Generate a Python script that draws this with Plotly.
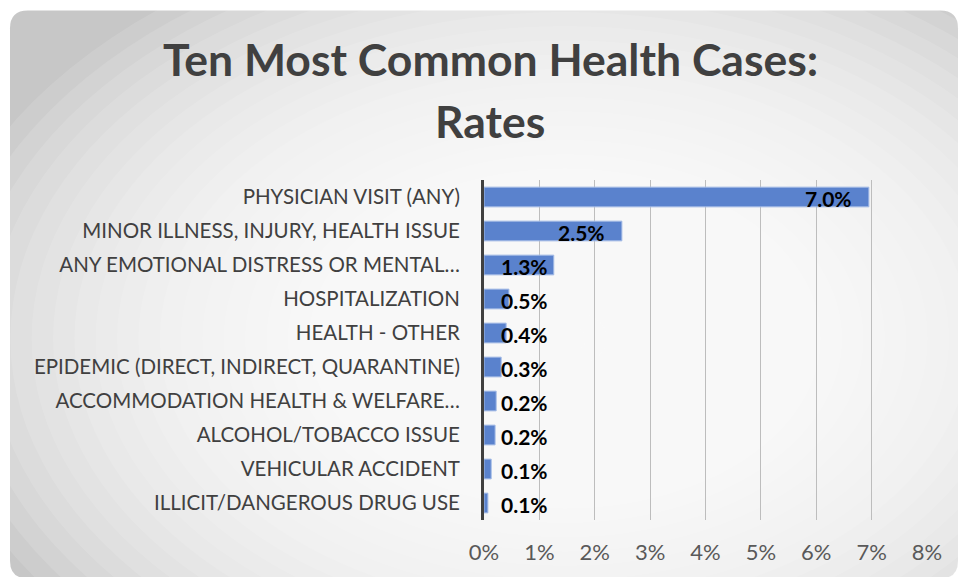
import plotly.graph_objects as go

categories = [
    "PHYSICIAN VISIT (ANY)",
    "MINOR ILLNESS, INJURY, HEALTH ISSUE",
    "ANY EMOTIONAL DISTRESS OR MENTAL…",
    "HOSPITALIZATION",
    "HEALTH - OTHER",
    "EPIDEMIC (DIRECT, INDIRECT, QUARANTINE)",
    "ACCOMMODATION HEALTH & WELFARE…",
    "ALCOHOL/TOBACCO ISSUE",
    "VEHICULAR ACCIDENT",
    "ILLICIT/DANGEROUS DRUG USE",
]
rates = [0.0695, 0.0249, 0.0126, 0.0045, 0.0040, 0.0031, 0.0022, 0.0020, 0.0013, 0.0007]
rate_labels = ["7.0%", "2.5%", "1.3%", "0.5%", "0.4%", "0.3%", "0.2%", "0.2%", "0.1%", "0.1%"]
x_ticks = [0, 0.01, 0.02, 0.03, 0.04, 0.05, 0.06, 0.07, 0.08]
x_tick_labels = ["0%", "1%", "2%", "3%", "4%", "5%", "6%", "7%", "8%"]
title_lines = ["Ten Most Common Health Cases:", "Rates"]

OFF = 0  # page body margin removed by post_script
W, H = 960, 577
PL, PR, PT, PB = 484 - OFF, 927 - OFF, 180 - OFF, 523 - OFF
FONT = "Lato, 'Open Sans', sans-serif"


def px(x):
    return (x - OFF - PL) / (PR - PL)


def py(y):
    return (PB - (y - OFF)) / (PB - PT)


fig = go.Figure()
fig.add_trace(go.Bar(
    y=categories, x=rates, orientation="h", width=0.58,
    marker=dict(color="#5A82CD", line=dict(color="#A3BBE6", width=1)),
    hoverinfo="skip",
))

shapes = []
# card with rounded corners (page pixel coordinates)
x0, x1, y0, y1, r = 10, 958, 9, 582, 18
pts = [
    ("M", [(x0 + r, y0)]), ("L", [(x1 - r, y0)]), ("Q", [(x1, y0), (x1, y0 + r)]),
    ("L", [(x1, y1 - r)]), ("Q", [(x1, y1), (x1 - r, y1)]), ("L", [(x0 + r, y1)]),
    ("Q", [(x0, y1), (x0, y1 - r)]), ("L", [(x0, y0 + r)]), ("Q", [(x0, y0), (x0 + r, y0)]),
]
path = " ".join(c + " " + " ".join(f"{px(a):.5f},{py(b):.5f}" for a, b in p) for c, p in pts) + " Z"
shapes.append(dict(type="path", xref="paper", yref="paper", path=path,
                   fillcolor="#C7C7C7", line=dict(width=0), layer="below"))
# radial light glow
cx, cy, rx, ry = 565, 340, 640, 430
N = 30
for k in range(N, 0, -1):
    s = k / N
    shapes.append(dict(type="circle", xref="paper", yref="paper",
                       x0=px(cx - rx * s), x1=px(cx + rx * s),
                       y0=py(cy + ry * s), y1=py(cy - ry * s),
                       fillcolor="rgba(255,255,255,0.12)", line=dict(width=0), layer="below"))

label_font = dict(family=FONT, size=21, color="#000000", weight="bold")
annotations = []
for cat, v, lab in zip(categories, rates, rate_labels):
    if v > 0.02:
        annotations.append(dict(x=v, y=cat, xref="x", yref="y", text=lab, showarrow=False,
                                xanchor="right", xshift=-15, yshift=-1, font=label_font))
    else:
        annotations.append(dict(x=0, y=cat, xref="x", yref="y", text=lab, showarrow=False,
                                xanchor="left", xshift=15, yshift=-1, font=label_font))

title_font = dict(family=FONT, size=44.5, color="#404040", weight="bold")
annotations.append(dict(x=px(490), y=py(57.5), xref="paper", yref="paper", text=title_lines[0],
                        showarrow=False, xanchor="center", yanchor="middle", font=title_font))
annotations.append(dict(x=px(490), y=py(119.5), xref="paper", yref="paper", text=title_lines[1],
                        showarrow=False, xanchor="center", yanchor="middle", font=title_font))

fig.update_layout(
    width=W, height=H,
    margin=dict(l=PL, r=W - PR, t=PT, b=H - PB, pad=0),
    paper_bgcolor="#FFFFFF", plot_bgcolor="rgba(0,0,0,0)",
    showlegend=False,
    shapes=shapes, annotations=annotations,
    xaxis=dict(range=[0, 0.08], tickvals=x_ticks, ticktext=x_tick_labels,
               showgrid=True, gridcolor="#BDBDBD", gridwidth=1, zeroline=False,
               showline=False, ticks="", ticklabelstandoff=17,
               tickfont=dict(family=FONT, size=22, color="#595959")),
    yaxis=dict(autorange="reversed", showgrid=False, zeroline=False,
               showline=True, linecolor="#404040", linewidth=3, ticks="",
               ticklabelstandoff=17,
               tickfont=dict(family=FONT, size=20.5, color="#404040")),
)

fig.write_html("out.html", config={"responsive": False, "displayModeBar": False},
               post_script="document.body.style.margin='0';document.body.style.overflow='hidden';")
